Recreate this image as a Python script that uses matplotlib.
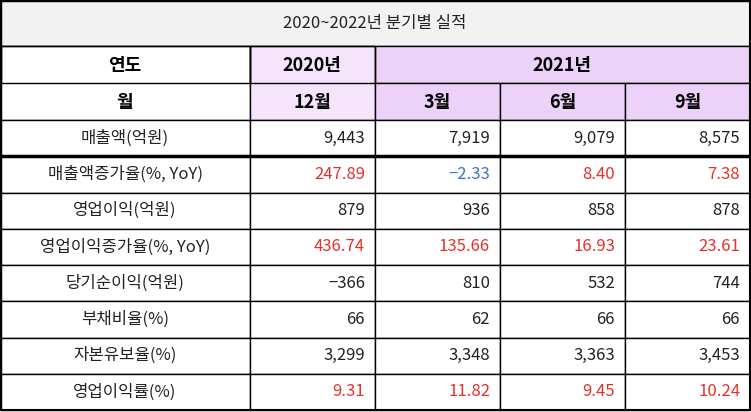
import matplotlib
matplotlib.use("Agg")
import matplotlib.pyplot as plt
from matplotlib.patches import Rectangle

plt.rcParams['font.family'] = ['Noto Sans CJK KR', 'DejaVu Sans']

title = "2020~2022년 분기별 실적"
years = ["2020년", "2021년"]
months = ["12월", "3월", "6월", "9월"]
row_labels = ["매출액(억원)", "매출액증가율(%, YoY)", "영업이익(억원)", "영업이익증가율(%, YoY)",
              "당기순이익(억원)", "부채비율(%)", "자본유보율(%)", "영업이익률(%)"]
values = [
    ["9,443", "7,919", "9,079", "8,575"],
    ["247.89", "-2.33", "8.40", "7.38"],
    ["879", "936", "858", "878"],
    ["436.74", "135.66", "16.93", "23.61"],
    ["-366", "810", "532", "744"],
    ["66", "62", "66", "66"],
    ["3,299", "3,348", "3,363", "3,453"],
    ["9.31", "11.82", "9.45", "10.24"],
]
colored_rows = {1, 3, 7}

W, H = 751, 412
fig = plt.figure(figsize=(W/100, H/100), dpi=100)
ax = fig.add_axes([0, 0, 1, 1])
ax.set_xlim(0, W); ax.set_ylim(H, 0); ax.axis('off')

cx = [1, 250, 375, 500, 625, 750]
ty0, ty1 = 1, 46
hy = [46, 83, 120]
ry = [120 + i*36.25 for i in range(9)]

def rect(x0, y0, x1, y1, fc, lw=1, ec='black'):
    ax.add_patch(Rectangle((x0, y0), x1-x0, y1-y0, fc=fc, ec=ec, lw=lw))

rect(cx[0], ty0, cx[5], ty1, '#f2f2f2')
ax.text(375, 23, title, ha='center', va='center', fontsize=12, color='#222222')

# header
rect(cx[0], hy[0], cx[1], hy[2], 'white')
rect(cx[1], hy[0], cx[2], hy[2], '#f5e4fc')
rect(cx[2], hy[0], cx[5], hy[1], '#ecd2f9')
for i in range(2, 5):
    rect(cx[i], hy[1], cx[i+1], hy[2], '#ecd2f9')
rect(cx[0], hy[0], cx[1], hy[1], 'none')
rect(cx[1], hy[0], cx[2], hy[1], 'none')
ax.text(125, 65, "연도", ha='center', va='center', fontsize=13, fontweight='bold')
ax.text(125, 102, "월", ha='center', va='center', fontsize=13, fontweight='bold')
ax.text(312, 65, years[0], ha='center', va='center', fontsize=13, fontweight='bold')
ax.text(562, 65, years[1], ha='center', va='center', fontsize=13, fontweight='bold')
for j, m in enumerate(months):
    ax.text((cx[j+1]+cx[j+2])/2, 102, m, ha='center', va='center', fontsize=13, fontweight='bold')

for i, lab in enumerate(row_labels):
    y0, y1 = ry[i], ry[i+1]
    yc = (y0+y1)/2
    for j in range(5):
        rect(cx[j], y0, cx[j+1], y1, 'white')
    ax.text(125, yc, lab, ha='center', va='center', fontsize=12, color='#222222')
    for j, v in enumerate(values[i]):
        col = '#222222'
        if i in colored_rows:
            col = '#4472c4' if v.startswith('-') else '#e8302a'
        ax.text(cx[j+2]-10, yc, v.replace('-', '−') if v.startswith('-') else v,
                ha='right', va='center', fontsize=12, color=col)

ax.plot([cx[0], cx[5]], [ry[1], ry[1]], color='black', lw=2.5)
ax.add_patch(Rectangle((cx[0], ty0), cx[5]-cx[0], ry[8]-ty0, fc='none', ec='black', lw=1.5))

fig.savefig('out.png', dpi=100)
